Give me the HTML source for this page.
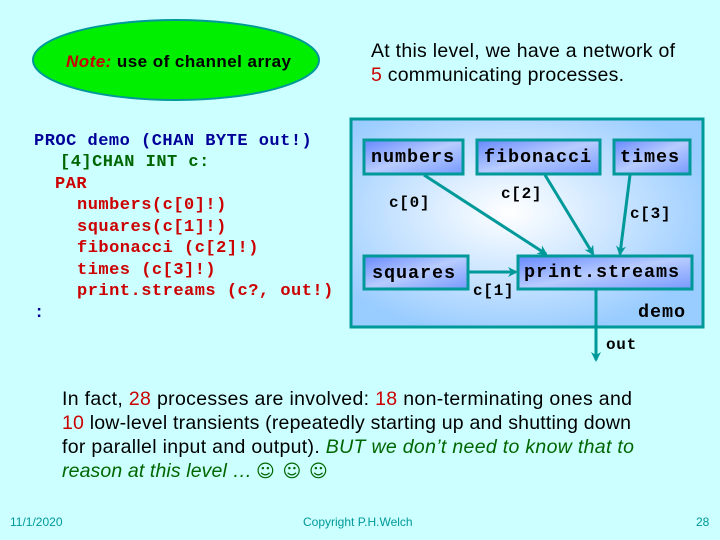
<!DOCTYPE html>
<html><head><style>
body{margin:0;background:#ccffff}
svg{display:block}
.m{font-family:"Liberation Mono",monospace;font-weight:bold}
.s{font-family:"Liberation Sans",sans-serif}
</style></head><body>
<svg width="720" height="540" viewBox="0 0 720 540">
<defs>
<radialGradient id="bg" cx="0.45" cy="0.45" r="0.6">
<stop offset="0" stop-color="#ffffff"/><stop offset="1" stop-color="#99ccff"/></radialGradient>
<linearGradient id="nb" x1="0" y1="0" x2="1" y2="1">
<stop offset="0" stop-color="#6688ff"/><stop offset="0.5" stop-color="#b8ccff"/><stop offset="1" stop-color="#7799ff"/></linearGradient>
<marker id="a" markerWidth="10" markerHeight="10" refX="8" refY="5" orient="auto" markerUnits="userSpaceOnUse">
<path d="M0,0 L10,5 L0,10 L3,5 z" fill="#009999"/></marker>
</defs>
<rect width="720" height="540" fill="#ccffff"/>
<ellipse cx="176" cy="60" rx="143" ry="40" fill="#00ee00" stroke="#009999" stroke-width="2"/>
<text x="66" y="67" class="s" font-size="17" font-weight="bold" textLength="225" lengthAdjust="spacing"><tspan fill="#cc0000" font-style="italic">Note:</tspan><tspan fill="#000"> use of channel array</tspan></text>
<text class="s" font-size="19.5" fill="#000"><tspan x="371" y="57" textLength="304" lengthAdjust="spacing">At this level, we have a network of</tspan><tspan x="371" y="81" textLength="253" lengthAdjust="spacing"><tspan fill="#cc0000">5</tspan> communicating processes.</tspan></text>
<g class="m" font-size="17" letter-spacing="0.5">
<text x="34" y="145" fill="#000099">PROC demo (CHAN BYTE out!)</text>
<text x="60" y="166" fill="#006600">[4]CHAN INT c:</text>
<text fill="#cc0000"><tspan x="55" y="188">PAR</tspan><tspan x="77" y="209">numbers(c[0]!)</tspan><tspan x="77" y="231">squares(c[1]!)</tspan><tspan x="77" y="252">fibonacci (c[2]!)</tspan><tspan x="77" y="274">times (c[3]!)</tspan><tspan x="77" y="295">print.streams (c?, out!)</tspan></text>
<text x="34" y="317" fill="#000099">:</text>
</g>
<rect x="351" y="119" width="352" height="208" fill="url(#bg)" stroke="#009999" stroke-width="3"/>
<g stroke="#009999" stroke-width="3" fill="url(#nb)">
<rect x="364" y="140" width="99" height="34"/>
<rect x="477" y="140" width="123" height="34"/>
<rect x="614" y="140" width="76" height="34"/>
<rect x="364" y="256" width="104" height="33"/>
<rect x="518" y="256" width="174" height="33"/>
</g>
<g stroke="#009999" stroke-width="3" marker-end="url(#a)">
<line x1="424" y1="175" x2="546" y2="254"/>
<line x1="545" y1="175" x2="593" y2="254"/>
<line x1="630" y1="175" x2="620" y2="254"/>
<line x1="469" y1="272" x2="516" y2="272"/>
<line x1="596" y1="290" x2="596" y2="360"/>
</g>
<g class="m" font-size="18.5" fill="#000" letter-spacing="0.9">
<text x="371" y="162">numbers</text>
<text x="484" y="162">fibonacci</text>
<text x="620" y="162">times</text>
<text x="372" y="278">squares</text>
<text x="524" y="277">print.streams</text>
<text x="638" y="317">demo</text>
</g>
<g class="m" font-size="16" fill="#000" letter-spacing="0.7">
<text x="389" y="207">c[0]</text>
<text x="501" y="198">c[2]</text>
<text x="630" y="218">c[3]</text>
<text x="473" y="295">c[1]</text>
<text x="606" y="349">out</text>
</g>
<g class="s" font-size="19.5" fill="#000">
<text x="62" y="405" textLength="570" lengthAdjust="spacing">In fact, <tspan fill="#cc0000">28</tspan> processes are involved:  <tspan fill="#cc0000">18</tspan> non-terminating ones and</text>
<text x="62" y="429" textLength="569" lengthAdjust="spacing"><tspan fill="#cc0000">10</tspan> low-level transients (repeatedly starting up and shutting down</text>
<text x="62" y="453" textLength="572" lengthAdjust="spacing">for parallel input and output).  <tspan fill="#006600" font-style="italic">BUT we don’t need to know that to</tspan></text>
<text x="62" y="477" fill="#006600" font-style="italic" textLength="190" lengthAdjust="spacing">reason at this level …</text>
<text x="256" y="477" fill="#006600" font-family="DejaVu Sans" font-size="18" letter-spacing="1">☺ ☺ ☺</text>
</g>
<text x="10" y="526" class="s" font-size="12" fill="#009999">11/1/2020</text>
<text x="303" y="526" class="s" font-size="12" fill="#009999">Copyright P.H.Welch</text>
<text x="696" y="526" class="s" font-size="12" fill="#009999">28</text>
</svg>
</body></html>
